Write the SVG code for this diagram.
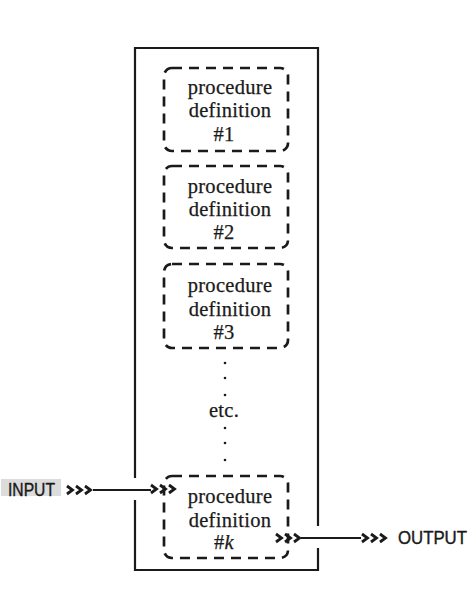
<svg xmlns="http://www.w3.org/2000/svg" width="473" height="596" viewBox="0 0 473 596">
<style>
.frame{fill:none;stroke:#1a1a1a;stroke-width:2.2}
.proc{fill:none;stroke:#1a1a1a;stroke-width:2.7;stroke-dasharray:10 7}
.t{font-family:"Liberation Serif","DejaVu Serif",serif;font-size:20.5px;fill:#1a1a1a;stroke:#1a1a1a;stroke-width:0.25;text-anchor:middle;letter-spacing:0.3px}
.s{font-family:"Liberation Sans Narrow","Liberation Sans","DejaVu Sans",sans-serif;font-size:18px;fill:#1a1a1a;stroke:#1a1a1a;stroke-width:0.4}
.line{fill:none;stroke:#1a1a1a;stroke-width:1.8}
.chev{fill:none;stroke:#1a1a1a;stroke-width:2.8;stroke-linejoin:miter}
.dot{fill:#1a1a1a}
</style>
<defs>
<path id="chev3" class="chev" d="M0,-4 L5.5,0 L0,4 M9,-4 L14.5,0 L9,4 M18,-4 L23.5,0 L18,4"/>
</defs>
<rect width="473" height="596" fill="#ffffff"/>
<g id="program">
<path class="frame" d="M135,478 V48 H318 V526 M318,548 V570 H135 V500"/>
</g>
<g id="proc1">
<rect class="proc" x="164" y="68" width="124" height="83" rx="8"/>
<text class="t" x="230" y="94">procedure</text>
<text class="t" x="230" y="117">definition</text>
<text class="t" x="224" y="141">#1</text>
</g>
<g id="proc2">
<rect class="proc" x="164" y="166" width="124" height="82" rx="8"/>
<text class="t" x="230" y="193">procedure</text>
<text class="t" x="230" y="216">definition</text>
<text class="t" x="224" y="239">#2</text>
</g>
<g id="proc3">
<rect class="proc" x="164" y="264" width="124" height="84" rx="8"/>
<text class="t" x="230" y="292">procedure</text>
<text class="t" x="230" y="316">definition</text>
<text class="t" x="224" y="339">#3</text>
</g>
<g id="etc">
<circle class="dot" cx="225" cy="363" r="1.3"/>
<circle class="dot" cx="225" cy="378" r="1.3"/>
<circle class="dot" cx="225" cy="395" r="1.3"/>
<text class="t" x="224" y="417">etc.</text>
<circle class="dot" cx="225" cy="428" r="1.3"/>
<circle class="dot" cx="225" cy="443" r="1.3"/>
<circle class="dot" cx="225" cy="460" r="1.3"/>
</g>
<g id="procK">
<rect class="proc" x="164" y="476" width="124" height="82" rx="8"/>
<text class="t" x="230" y="503">procedure</text>
<text class="t" x="230" y="527">definition</text>
<text class="t" x="224" y="549">#<tspan font-style="italic">k</tspan></text>
</g>
<g id="input">
<rect x="1" y="479" width="60" height="17" fill="#dcdcdc"/>
<text class="s" x="8" y="496" textLength="47" lengthAdjust="spacingAndGlyphs">INPUT</text>
</g>
<g id="output">
<text class="s" x="398" y="544" textLength="69" lengthAdjust="spacingAndGlyphs">OUTPUT</text>
</g>
<g id="connectors">
<use href="#chev3" x="67" y="490"/>
<line class="line" x1="93" y1="490" x2="151" y2="490"/>
<use href="#chev3" x="151" y="489"/>
<use href="#chev3" x="276" y="538"/>
<line class="line" x1="301" y1="538" x2="361" y2="538"/>
<use href="#chev3" x="362" y="538"/>
</g>
</svg>
